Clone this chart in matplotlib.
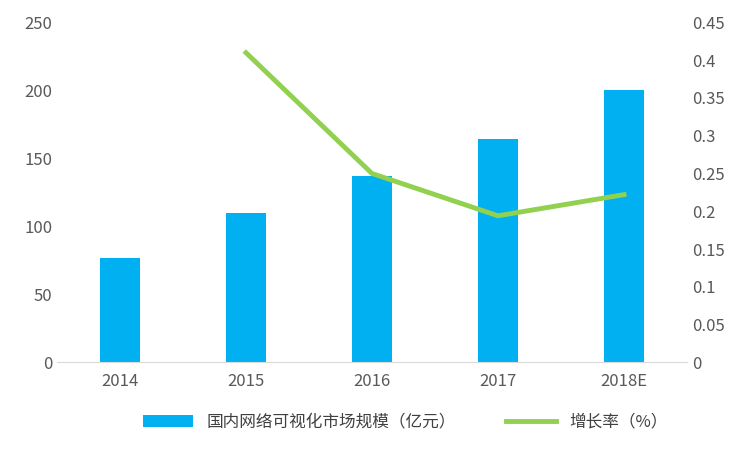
import matplotlib.pyplot as plt
import numpy as np

plt.rcParams['font.family'] = ['Noto Sans CJK SC', 'DejaVu Sans']

years = ['2014', '2015', '2016', '2017', '2018E']
market = [77, 110, 137, 164, 200]
growth_years = ['2015', '2016', '2017', '2018E']
growth = [0.41, 0.25, 0.194, 0.222]

fig = plt.figure(figsize=(7.5, 4.5), dpi=100)
ax = fig.add_axes([0.076, 0.195, 0.84, 0.755])
x = np.arange(len(years))
ax.bar(x, market, width=0.31, color='#00B0F0', label='国内网络可视化市场规模（亿元）')
ax.set_ylim(0, 250)
ax.set_yticks(range(0, 251, 50))
ax.set_xlim(-0.5, 4.5)
ax.set_xticks(x)
ax.set_xticklabels(years)

ax2 = ax.twinx()
gx = [years.index(y) for y in growth_years]
ax2.plot(gx, growth, color='#92D050', lw=3.5, label='增长率（%）')
ax2.set_ylim(0, 0.45)
ax2.set_yticks(np.arange(0, 0.451, 0.05))
ax2.set_yticklabels(['0', '0.05', '0.1', '0.15', '0.2', '0.25', '0.3', '0.35', '0.4', '0.45'])

for a in (ax, ax2):
    for s in a.spines.values():
        s.set_visible(False)
    a.tick_params(length=0, labelsize=12, colors='#595959')
ax.spines['bottom'].set_visible(True)
ax.spines['bottom'].set_color('#d9d9d9')
ax.tick_params(axis='x', pad=8)

h1, l1 = ax.get_legend_handles_labels()
h2, l2 = ax2.get_legend_handles_labels()
fig.legend(h1 + h2, l1 + l2, loc='lower center', ncol=2, frameon=False,
           fontsize=12, labelcolor='#404040', bbox_to_anchor=(0.54, 0.01),
           columnspacing=3, handlelength=3)

fig.savefig('out.png')
